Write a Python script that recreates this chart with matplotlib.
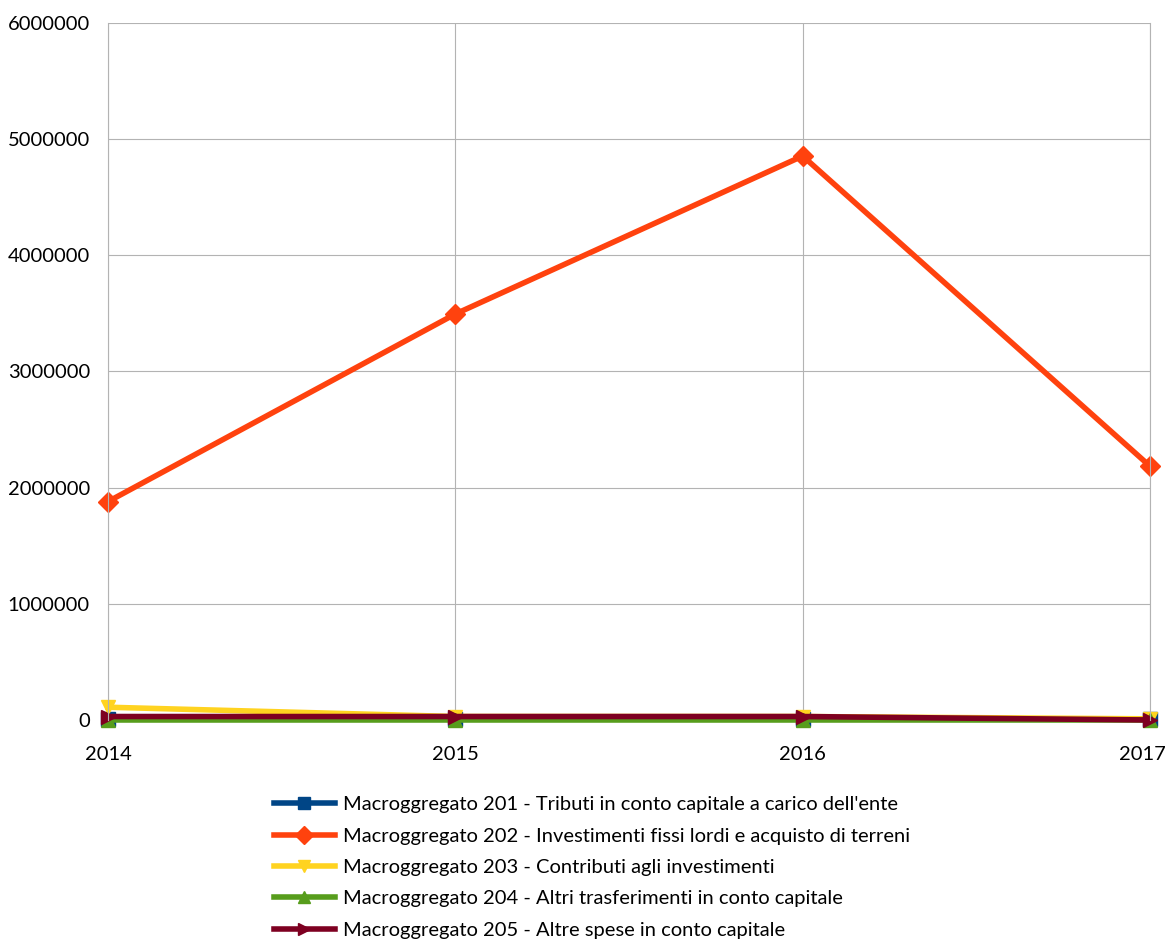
import matplotlib
matplotlib.use("Agg")
import matplotlib.pyplot as plt
import matplotlib.transforms as mtransforms

years = [2014, 2015, 2016, 2017]
m201 = [5000, 5000, 5000, 5000]
m202 = [1880000, 3495000, 4855000, 2185000]
m203 = [110000, 30000, 30000, 10000]
m204 = [0, 0, 0, 0]
m205 = [30000, 30000, 30000, 0]

labels = [
    "Macroggregato 201 - Tributi in conto capitale a carico dell'ente",
    "Macroggregato 202 - Investimenti fissi lordi e acquisto di terreni",
    "Macroggregato 203 - Contributi agli investimenti",
    "Macroggregato 204 - Altri trasferimenti in conto capitale",
    "Macroggregato 205 - Altre spese in conto capitale",
]
colors = ["#004586", "#ff420e", "#ffd320", "#579d1c", "#7e0021"]
markers = ["s", "D", "v", "^", ">"]
series = [m201, m202, m203, m204, m205]

plt.rcParams['font.family'] = ['Lato', 'DejaVu Sans']
fig = plt.figure(figsize=(11.68, 9.4), dpi=100)
ax = fig.add_axes([108/1168, 1-720/940, (1150-108)/1168, (720-23)/940])

for vals, c, m, lab in zip(series, colors, markers, labels):
    ax.plot(years, vals, color=c, marker=m, lw=4, ms=10, label=lab, clip_on=False)

ax.set_xlim(2014, 2017)
ax.set_ylim(0, 6000000)
ax.set_xticks(years)
ax.set_xticklabels([str(y) for y in years])
ax.set_yticks(range(0, 6000001, 1000000))
ax.set_yticklabels([str(v) for v in range(0, 6000001, 1000000)])
ax.grid(True, color="#b3b3b3", lw=0.8)
ax.set_axisbelow(True)
for s in ["top", "bottom"]:
    ax.spines[s].set_visible(False)
for s in ["left", "right"]:
    ax.spines[s].set_color("#b3b3b3")
    ax.spines[s].set_linewidth(0.8)
ax.tick_params(length=0, labelsize=14.5, colors="black")
ax.tick_params(axis='y', pad=13)
ax.tick_params(axis='x', pad=19)

last = ax.get_xticklabels()[-1]
last.set_transform(last.get_transform() + mtransforms.ScaledTranslation(-8/100, 0, fig.dpi_scale_trans))

leg = fig.legend(loc="upper left", bbox_to_anchor=(256/1168, 1-778/940), frameon=False,
                 fontsize=14.5, handlelength=3.0, labelspacing=0.71, handletextpad=0.4)
for ln in leg.get_lines():
    ln.set_markersize(9)
fig.savefig("out.png", dpi=100)
